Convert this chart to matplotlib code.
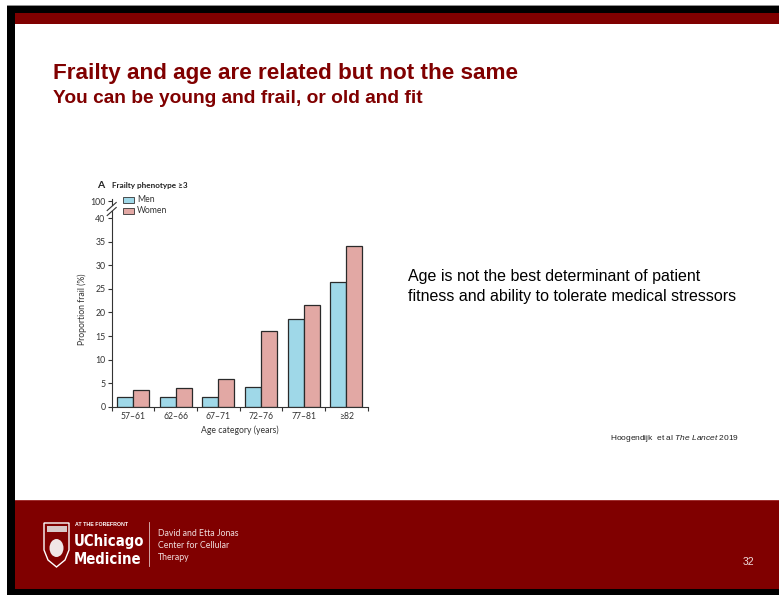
import matplotlib
matplotlib.use('Agg')
import matplotlib.pyplot as plt
from matplotlib.patches import Rectangle, Polygon, Ellipse
from matplotlib.lines import Line2D
import numpy as np

plt.rcParams['mathtext.fontset'] = 'custom'
plt.rcParams['mathtext.it'] = 'Liberation Sans:italic'
plt.rcParams['mathtext.rm'] = 'Liberation Sans'

# ---------------- data ----------------
categories = ['57–61', '62–66', '67–71', '72–76', '77–81', '≥82']
men = [2.1, 2.1, 2.1, 4.2, 18.6, 26.5]
women = [3.5, 4.0, 5.8, 16.0, 21.5, 34.1]
y_ticks = [0, 5, 10, 15, 20, 25, 30, 35, 40]
top_ticks = [100]
series_names = ['Men', 'Women']

MEN_C = '#9fd8e8'
WOMEN_C = '#e2a8a4'
RED = '#800000'
CHART_FONT = 'Lato'

W, H = 779, 595
fig = plt.figure(figsize=(W / 100, H / 100), dpi=100)
fig.patch.set_facecolor('white')


def fx(x):
    return x / W


def fy(y):
    return 1 - y / H


def rect(x0, y0, x1, y1, color):
    fig.add_artist(Rectangle((fx(x0), fy(y1)), (x1 - x0) / W, (y1 - y0) / H,
                             transform=fig.transFigure, facecolor=color,
                             edgecolor='none', zorder=0))


# ---------------- slide frame ----------------
rect(7, 4.5, 779, 5.5, '#909090')
rect(7, 5.5, 779, 13.5, '#000000')
rect(15, 13.5, 779, 24, RED)
rect(7, 5.5, 15, 595, '#000000')
rect(15, 500, 779, 589, RED)
rect(15, 499.5, 779, 500.5, '#a03030')
rect(7, 589, 779, 595, '#000000')

# ---------------- titles ----------------
fig.text(fx(53), fy(73), 'Frailty and age are related but not the same',
         fontsize=16.2, fontweight='bold', color=RED, family='Liberation Sans',
         ha='left', va='center')
fig.text(fx(53), fy(98.5), 'You can be young and frail, or old and fit',
         fontsize=13.8, fontweight='bold', color=RED, family='Liberation Sans',
         ha='left', va='center')

fig.text(fx(408), fy(276), 'Age is not the best determinant of patient',
         fontsize=11.5, color='black', family='Liberation Sans', ha='left', va='center')
fig.text(fx(408), fy(296), 'fitness and ability to tolerate medical stressors',
         fontsize=11.5, color='black', family='Liberation Sans', ha='left', va='center')

fig.text(fx(610), fy(438), r'Hoogendijk  et al $\mathit{The\ Lancet}$ 2019',
         fontsize=6.0, color='#222222', family='Liberation Sans', ha='left', va='center')

# ---------------- chart ----------------
ax_left, ax_right = 111.7, 367.7
ax_bottom = 406.7
px_per_unit = (406.7 - 218.3) / 40
ymax = 41.5
ax_top_px = ax_bottom - ymax * px_per_unit

ax = fig.add_axes([fx(ax_left), fy(ax_bottom), (ax_right - ax_left) / W,
                   (ax_bottom - ax_top_px) / H])
ax.set_facecolor('none')
x = np.arange(len(categories))
bw = 0.375
ax.bar(x - bw / 2, men, width=bw, color=MEN_C, edgecolor='#2a2a2a', linewidth=0.9, label=series_names[0])
ax.bar(x + bw / 2, women, width=bw, color=WOMEN_C, edgecolor='#2a2a2a', linewidth=0.9, label=series_names[1])
ax.set_xlim(-0.5, len(categories) - 0.5)
ax.set_ylim(0, ymax)
for s in ['top', 'right']:
    ax.spines[s].set_visible(False)
for s in ['left', 'bottom']:
    ax.spines[s].set_linewidth(0.8)
    ax.spines[s].set_color('#333333')
ax.set_yticks(y_ticks)
ax.set_yticklabels([str(v) for v in y_ticks], fontsize=6.3, color='#333333', family=CHART_FONT)
ax.set_xticks(np.arange(len(categories) + 1) - 0.5)
ax.set_xticklabels([])
ax.set_xticks(x, minor=True)
ax.set_xticklabels(categories, minor=True, fontsize=6.2, color='#333333', family=CHART_FONT)
ax.tick_params(axis='x', which='major', length=3, width=0.8, color='#333333')
ax.tick_params(axis='x', which='minor', length=0, pad=4)
ax.tick_params(axis='y', length=3, width=0.8, color='#333333', pad=1.5)
ax.set_xlabel('Age category (years)', fontsize=6.2, color='#333333', family=CHART_FONT, labelpad=3)
ax.set_ylabel('Proportion frail (%)', fontsize=6.2, color='#333333', family=CHART_FONT, labelpad=6)

# top segment of broken axis (100)
t0, t1 = 199.0, 204.5
ax2 = fig.add_axes([fx(ax_left), fy(t1), 0.001, (t1 - t0) / H])
ax2.set_facecolor('none')
ax2.set_ylim(100 - (t1 - 201.3), 100 + (201.3 - t0))
for s in ['top', 'right', 'bottom']:
    ax2.spines[s].set_visible(False)
ax2.spines['left'].set_linewidth(0.8)
ax2.spines['left'].set_color('#333333')
ax2.set_xticks([])
ax2.set_yticks(top_ticks)
ax2.set_yticklabels([str(v) for v in top_ticks], fontsize=6.3, color='#333333', family=CHART_FONT)
ax2.tick_params(axis='y', length=3, width=0.8, color='#333333', pad=1.5)

# break marks
for yc in (206.5, 211.5):
    fig.add_artist(Line2D([fx(ax_left - 4.5), fx(ax_left + 4.5)], [fy(yc + 4), fy(yc - 4)],
                          transform=fig.transFigure, color='#333333', lw=0.8))

# panel label and legend
fig.text(fx(97), fy(185), 'A', fontsize=7.5, fontweight='bold', color='#222222',
         family=CHART_FONT, ha='left', va='center')
fig.text(fx(111.5), fy(185.5), 'Frailty phenotype ≥3', fontsize=5.9, fontweight='bold',
         color='#222222', family=CHART_FONT, ha='left', va='center')
for (yy, c, name) in [(200, MEN_C, series_names[0]), (210.5, WOMEN_C, series_names[1])]:
    fig.add_artist(Rectangle((fx(123), fy(yy + 3)), 11 / W, 6 / H, transform=fig.transFigure,
                             facecolor=c, edgecolor='#333333', lw=0.6))
    fig.text(fx(137), fy(yy), name, fontsize=6.2, color='#333333', family=CHART_FONT,
             ha='left', va='center')

# ---------------- footer ----------------
shield = Polygon([(fx(44), fy(523)), (fx(69), fy(523)), (fx(69), fy(550)),
                  (fx(65), fy(560)), (fx(56.5), fy(567)), (fx(48), fy(560)), (fx(44), fy(550))],
                 closed=True, transform=fig.transFigure, facecolor='none', edgecolor='white', lw=1)
fig.add_artist(shield)
rect(46.5, 525.5, 66.5, 532, '#d8c8c8')
fig.add_artist(Ellipse((fx(56.5), fy(548)), 14 / W, 18 / H, transform=fig.transFigure,
                       facecolor='#f0e6e6', edgecolor='none'))
fig.text(fx(75), fy(525), 'AT THE FOREFRONT', fontsize=3.8, fontweight='bold', color='white',
         family='Liberation Sans', ha='left', va='center')
fig.text(fx(74), fy(541.5), 'UChicago', fontsize=10.6, fontweight='bold', color='white',
         family='DejaVu Sans', stretch='condensed', ha='left', va='center')
fig.text(fx(74), fy(559.5), 'Medicine', fontsize=10.6, fontweight='bold', color='white',
         family='DejaVu Sans', stretch='condensed', ha='left', va='center')
fig.add_artist(Line2D([fx(149), fx(149)], [fy(522), fy(566)], transform=fig.transFigure,
                      color='#e0c0c0', lw=0.6))
for yy, t in [(533, 'David and Etta Jonas'), (545, 'Center for Cellular'), (557, 'Therapy')]:
    fig.text(fx(158), fy(yy), t, fontsize=6.3, color='#f0dede', family='Lato',
             ha='left', va='center')
fig.text(fx(748), fy(562), '32', fontsize=7.5, color='#f0dede', family='Liberation Sans',
         ha='center', va='center')

fig.savefig('out.png', dpi=100)
